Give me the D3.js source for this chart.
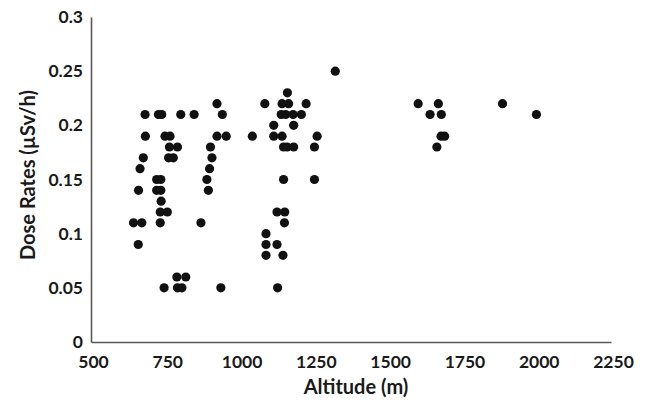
<!DOCTYPE html>
<html><head><meta charset="utf-8">
<script src="https://cdn.jsdelivr.net/npm/d3@7"></script>
<style>body{margin:0;background:#fff}svg{display:block}text{font-family:Lato,"Open Sans",sans-serif;font-weight:bold;fill:#1a1a1a}</style>
</head><body><div id="chart"></div>
<script>
const xTicks = [500, 750, 1000, 1250, 1500, 1750, 2000, 2250];
const yTicks = [0, 0.05, 0.1, 0.15, 0.2, 0.25, 0.3];
const altitude = [
  1322,
  1161,
  924, 1085, 1143, 1165, 1224, 1601, 1669, 1885,
  682, 727, 738, 802, 847, 942, 1140, 1155, 1180, 1208, 1641, 1679, 1999,
  1115, 1182,
  683, 749, 766, 924, 955, 1043, 1115, 1143, 1261, 1678, 1690,
  764, 791, 902, 1148, 1160, 1182, 1252, 1664,
  676, 761, 777, 907,
  665, 899,
  721, 735, 890, 1148, 1252,
  660, 721, 735, 895,
  736,
  733, 757, 1126, 1152,
  643, 671, 733, 870, 1151,
  1089,
  659, 1089, 1126,
  1089, 1146,
  789, 819,
  746, 791, 806, 937, 1128
];
const doseRate = [
  0.25,
  0.23,
  0.22, 0.22, 0.22, 0.22, 0.22, 0.22, 0.22, 0.22,
  0.21, 0.21, 0.21, 0.21, 0.21, 0.21, 0.21, 0.21, 0.21, 0.21, 0.21, 0.21, 0.21,
  0.20, 0.20,
  0.19, 0.19, 0.19, 0.19, 0.19, 0.19, 0.19, 0.19, 0.19, 0.19, 0.19,
  0.18, 0.18, 0.18, 0.18, 0.18, 0.18, 0.18, 0.18,
  0.17, 0.17, 0.17, 0.17,
  0.16, 0.16,
  0.15, 0.15, 0.15, 0.15, 0.15,
  0.14, 0.14, 0.14, 0.14,
  0.13,
  0.12, 0.12, 0.12, 0.12,
  0.11, 0.11, 0.11, 0.11, 0.11,
  0.10,
  0.09, 0.09, 0.09,
  0.08, 0.08,
  0.06, 0.06,
  0.05, 0.05, 0.05, 0.05, 0.05
];
const xTitle = "Altitude (m)";
const yTitle = "Dose Rates (\u00b5Sv/h)";

const W = 648, H = 404;
const svg = d3.select("#chart").append("svg").attr("width", W).attr("height", H);
const x = d3.scaleLinear().domain([500, 2250]).range([91, 611]);
const y = d3.scaleLinear().domain([0, 0.3]).range([342, 17]);

const yAxis = svg.append("g").attr("transform", `translate(${x(500)},0)`)
  .call(d3.axisLeft(y).tickValues(yTicks).tickSize(0).tickPadding(8).tickFormat(d => String(d)));
const xAxis = svg.append("g").attr("transform", `translate(0,${y(0)})`)
  .call(d3.axisBottom(x).tickValues(xTicks).tickSize(0).tickPadding(14).tickFormat(d => String(d)));
[yAxis, xAxis].forEach(g => {
  g.select(".domain").attr("stroke", "#595959").attr("stroke-width", 1.6);
  g.selectAll("text").attr("font-size", 17.5).attr("font-family", "Lato, 'Open Sans', sans-serif").attr("font-weight", "bold").attr("fill", "#1a1a1a");
});
xAxis.selectAll(".tick text").attr("dx", 2);

svg.append("g").selectAll("circle").data(altitude.map((a, i) => [a, doseRate[i]]))
  .join("circle")
  .attr("cx", d => x(d[0])).attr("cy", d => y(d[1])).attr("r", 4.6).attr("fill", "#111");

svg.append("text").attr("x", 356).attr("y", 394)
  .attr("text-anchor", "middle").attr("font-size", 20).text(xTitle);
svg.append("text").attr("transform", `translate(35,175) rotate(-90)`)
  .attr("text-anchor", "middle").attr("font-size", 20).text(yTitle);
</script></body></html>
